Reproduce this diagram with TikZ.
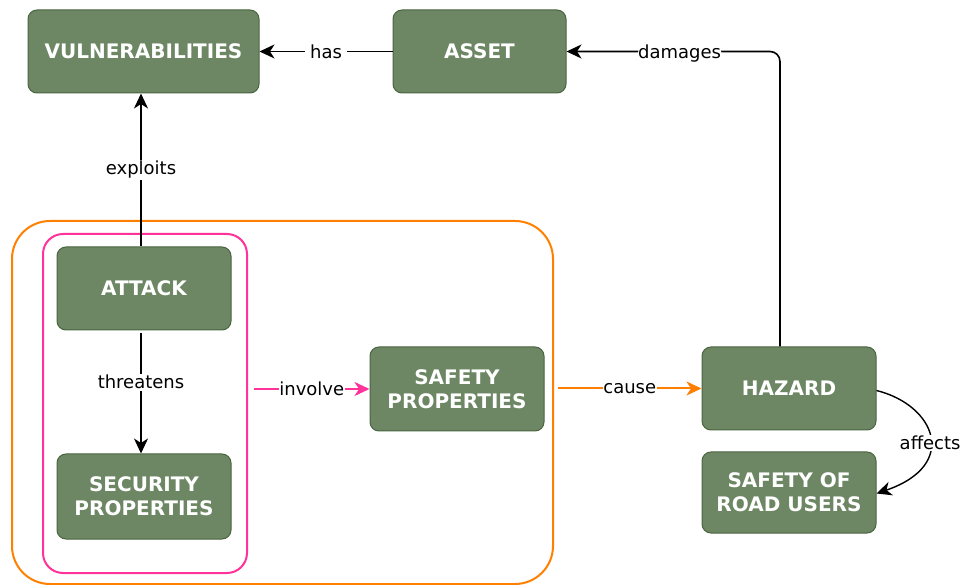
\documentclass[tikz,border=0pt]{standalone}
\usepackage{fontspec}
\setmainfont{DejaVu Sans}
\usetikzlibrary{arrows.meta}
\definecolor{boxfill}{HTML}{6D8764}
\definecolor{boxline}{HTML}{4A6440}
\definecolor{pinkc}{HTML}{FF3399}
\definecolor{orangec}{HTML}{FF8000}
\begin{document}
\begin{tikzpicture}[x=1pt,y=-1pt,
  box/.style={draw=boxline, fill=boxfill, rounded corners=9pt, line width=1pt,
    text=white, font=\fontsize{20}{24}\selectfont\bfseries, align=center, inner sep=0pt},
  group/.style={line width=2pt, inner sep=0pt},
  lbl/.style={fill=white, inner sep=1.5pt, font=\fontsize{18}{22}\selectfont, text=black},
  conn/.style={line width=1.6pt, -{Stealth[length=15pt,width=14pt,inset=4.5pt]}},
]
\useasboundingbox (0,0) rectangle (962,585);

% grouping frames
\node[group, draw=orangec, rounded corners=38pt, minimum width=541pt, minimum height=363pt] (outer) at (282.5,402.5) {};
\node[group, draw=pinkc, rounded corners=20pt, minimum width=204pt, minimum height=339pt] (inner) at (145,403.5) {};

% concepts
\node[box, minimum width=231pt, minimum height=83pt] (vuln) at (143.5,51.5) {VULNERABILITIES};
\node[box, minimum width=173pt, minimum height=83pt] (asset) at (479.5,51.5) {ASSET};
\node[box, minimum width=174pt, minimum height=83pt] (attack) at (144,288.5) {ATTACK};
\node[box, minimum width=174pt, minimum height=85pt] (security) at (144,496.5) {SECURITY\\PROPERTIES};
\node[box, minimum width=174pt, minimum height=84pt] (safety) at (457,389) {SAFETY\\PROPERTIES};
\node[box, minimum width=174pt, minimum height=83pt] (hazard) at (789,388.5) {HAZARD};
\node[box, minimum width=174pt, minimum height=81pt] (road) at (789,492.5) {SAFETY OF\\ROAD USERS};

\coordinate (bend) at (780,51.5);

% relations
\draw[conn] (asset.west) -- node[lbl, inner sep=5pt]{has} (vuln.east);
\draw[conn] ([xshift=-3pt]attack.north) -- node[lbl]{exploits} ([xshift=-3pt]attack.north |- vuln.south);
\draw[conn, shorten <=3pt] ([xshift=-3pt]attack.south) -- node[lbl, pos=0.42]{threatens} ([xshift=-3pt]attack.south |- security.north);
\draw[conn, line width=2pt, draw=pinkc] ([xshift=6pt]inner.east |- safety.west) -- node[lbl, inner sep=0.5pt]{involve} (safety.west);
\draw[conn, line width=2pt, draw=orangec] ([xshift=4pt]outer.east |- hazard.west) -- node[lbl, inner sep=0.5pt]{cause} (hazard.west);
\draw[conn, rounded corners=10pt] (hazard.north -| bend) |- node[lbl, pos=0.735, inner sep=0.5pt, yshift=-2pt]{damages} (asset.east);
\draw[conn, line width=1.4pt] ([yshift=-2pt]hazard.east) .. controls (935,405) and (960,465) .. node[lbl, pos=0.55, inner sep=1pt]{affects} ([yshift=-1pt]road.east);
\end{tikzpicture}
\end{document}
